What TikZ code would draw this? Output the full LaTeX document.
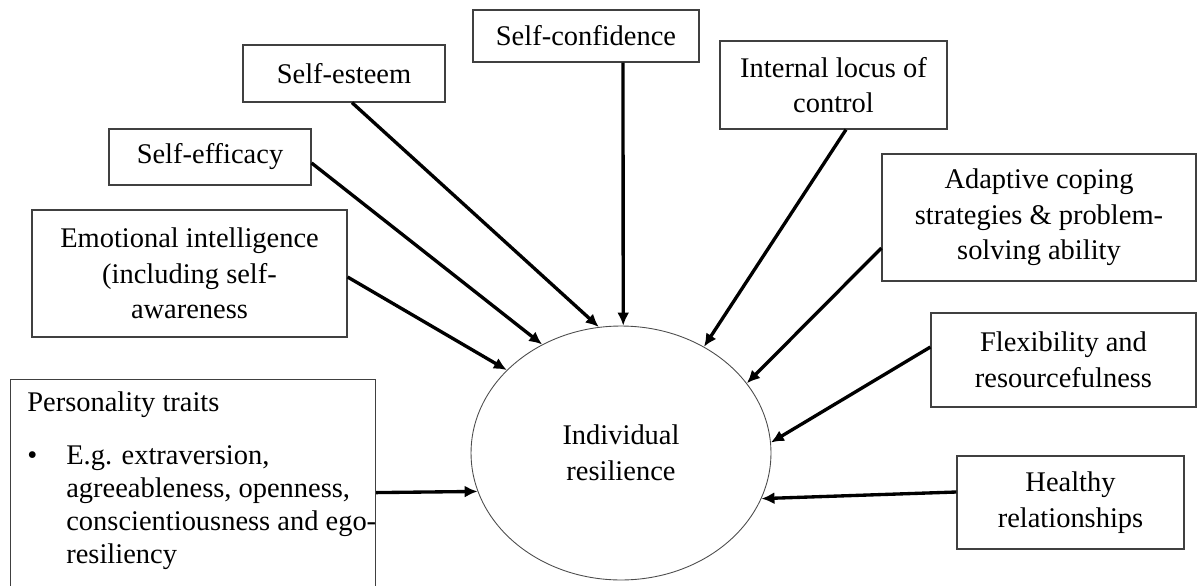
\documentclass[tikz,border=0pt]{standalone}
\usepackage{fontspec}
\setmainfont{Liberation Serif}
\usepackage{tikz}
\usetikzlibrary{shapes,arrows.meta,positioning}
\tikzset{factor/.style={rectangle,draw=black!75,line width=0.7pt,align=center,inner sep=0pt,font=\fontsize{16.2}{20.2}\selectfont}}
\tikzset{core/.style={ellipse,draw=black!70,line width=0.5pt,inner sep=0pt,minimum width=6cm,minimum height=5.08cm,align=center,font=\fontsize{16.2}{20.2}\selectfont}}
\tikzset{link/.style={->,>={Latex[length=0.26cm,width=0.24cm]},line width=1.9pt}}

\begin{document}
\begin{tikzpicture}[x=0.02cm,y=-0.02cm]
        \useasboundingbox (0,0) rectangle (1197,585);
        \node[core] (resilience) at (621,453) {Individual\\resilience};

        \node[factor,minimum width=4.52cm,minimum height=1.04cm] (confidence) at (586,36) {Self-confidence};
        \node[factor,minimum width=4.04cm,minimum height=1.14cm] (esteem) at (344,73.5) {Self-esteem};
        \node[factor,minimum width=4.54cm,minimum height=1.76cm] (locus) at (833.5,85) {Internal locus of\\control};
        \node[factor,minimum width=4.04cm,minimum height=1.12cm] (efficacy) at (210,157) {Self-efficacy};
        \node[factor,minimum width=6.28cm,minimum height=2.54cm] (coping) at (1039,217.5) {Adaptive coping\\strategies \& problem-\\solving ability};
        \node[factor,minimum width=6.3cm,minimum height=2.54cm] (emotional) at (189.5,273.5) {Emotional intelligence\\(including self-\\awareness};
        \node[factor,minimum width=5.3cm,minimum height=1.88cm] (flexibility) at (1063.5,360) {Flexibility and\\resourcefulness};
        \node[factor,minimum width=4.54cm,minimum height=1.86cm] (relations) at (1070.5,502.5) {Healthy\\relationships};

        \node[factor,anchor=north west,minimum width=7.3cm,minimum height=4.32cm] (traits) at (10,379) {};
        \node[anchor=north west,align=left,inner sep=0pt,font=\fontsize{16.2}{18.8}\selectfont] (traitstext) at (27,391) {Personality traits\\[11.5pt]
            \makebox[0.78cm][l]{\textbullet}E.g. extraversion,\\
            \hspace*{0.78cm}agreeableness, openness,\\
            \hspace*{0.78cm}conscientiousness and ego-\\
            \hspace*{0.78cm}resiliency};

        \draw[link] ([xshift=0.74cm]confidence.south) -- (resilience.89);
        \draw[link] ([xshift=0.16cm]esteem.south) -- (resilience.100);
        \draw[link] ([yshift=-0.12cm]efficacy.east) -- (resilience.126);
        \draw[link] ([yshift=-0.07cm]emotional.east) -- (resilience.144);
        \draw[link] ([yshift=-0.1cm]traits.east) -- (resilience.195);
        \draw[link] ([xshift=0.25cm]locus.south) -- (resilience.52);
        \draw[link] ([yshift=-0.61cm]coping.west) -- (resilience.29);
        \draw[link] ([yshift=0.26cm]flexibility.west) -- (resilience.4);
        \draw[link] ([yshift=0.21cm]relations.west) -- (resilience.342);
    \end{tikzpicture}
\end{document}
